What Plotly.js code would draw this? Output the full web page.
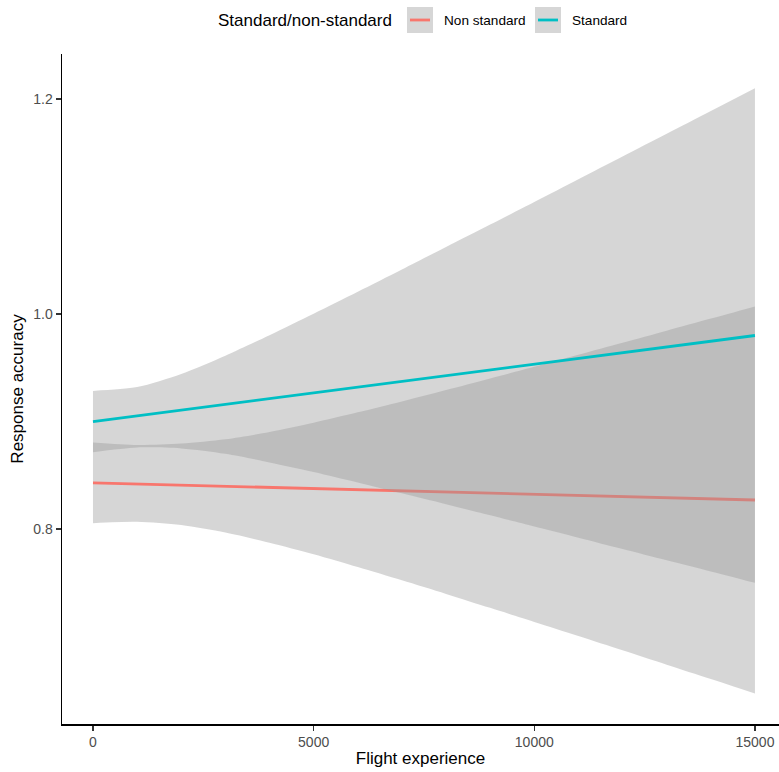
<!DOCTYPE html>
<html>
<head>
<meta charset="utf-8">
<script src="https://cdn.plot.ly/plotly-3.0.1.min.js"></script>
<style>
  html, body { margin: 0; padding: 0; background: #ffffff; }
  #chart { width: 779px; height: 772px; }
</style>
</head>
<body>
<div id="chart"></div>
<script>
// ---- Data ----
const flightExperience = [0, 1000, 2000, 3000, 4000, 5000, 6000, 7000, 8000, 9000, 10000, 11000, 12000, 13000, 14000, 15000];

// Standard group: fitted line and confidence band
const standardFit   = [0.9000, 0.9053, 0.9107, 0.9160, 0.9213, 0.9267, 0.9320, 0.9373, 0.9427, 0.9480, 0.9533, 0.9587, 0.9640, 0.9693, 0.9747, 0.9800];
const standardUpper = [0.9285, 0.9320, 0.9442, 0.9612, 0.9803, 1.0003, 1.0207, 1.0414, 1.0623, 1.0832, 1.1042, 1.1254, 1.1465, 1.1676, 1.1888, 1.2100];
const standardLower = [0.8715, 0.8758, 0.8750, 0.8700, 0.8620, 0.8531, 0.8433, 0.8332, 0.8231, 0.8128, 0.8024, 0.7920, 0.7815, 0.7710, 0.7606, 0.7500];

// Non standard group: fitted line and confidence band
const nonStandardFit   = [0.8430, 0.8419, 0.8409, 0.8398, 0.8387, 0.8377, 0.8366, 0.8355, 0.8345, 0.8334, 0.8323, 0.8313, 0.8302, 0.8291, 0.8281, 0.8270];
const nonStandardUpper = [0.8805, 0.8782, 0.8795, 0.8835, 0.8903, 0.8989, 0.9086, 0.9187, 0.9293, 0.9401, 0.9510, 0.9621, 0.9732, 0.9844, 0.9957, 1.0070];
const nonStandardLower = [0.8055, 0.8067, 0.8037, 0.7967, 0.7873, 0.7765, 0.7646, 0.7523, 0.7397, 0.7267, 0.7136, 0.7005, 0.6872, 0.6738, 0.6605, 0.6470];

const groupNames  = ["Non standard", "Standard"];
const legendTitle = "Standard/non-standard";
const xTicks = [0, 5000, 10000, 15000];
const yTicks = [0.8, 1.0, 1.2];
const xTitle = "Flight experience";
const yTitle = "Response accuracy";

// ---- Styling ----
const FONT = "'Liberation Sans', Arial, Helvetica, sans-serif";
const colNon = "#F8766D";
const colStd = "#00BFC4";
const ribbonFill = "rgba(153,153,153,0.4)";
const W = 779, H = 772;
const M = { l: 62, r: 0, t: 54, b: 48 };

function ribbon(lower, upper) {
  return [
    { x: flightExperience, y: lower, type: "scatter", mode: "lines",
      line: { width: 0, shape: "spline", smoothing: 0.8, color: "rgba(0,0,0,0)" },
      hoverinfo: "skip", showlegend: false },
    { x: flightExperience, y: upper, type: "scatter", mode: "lines",
      line: { width: 0, shape: "spline", smoothing: 0.8, color: "rgba(0,0,0,0)" },
      fill: "tonexty", fillcolor: ribbonFill,
      hoverinfo: "skip", showlegend: false }
  ];
}

const traces = [
  ...ribbon(nonStandardLower, nonStandardUpper),
  { x: flightExperience, y: nonStandardFit, type: "scatter", mode: "lines",
    name: groupNames[0], line: { color: colNon, width: 2.8 }, showlegend: false },
  ...ribbon(standardLower, standardUpper),
  { x: flightExperience, y: standardFit, type: "scatter", mode: "lines",
    name: groupNames[1], line: { color: colStd, width: 2.8 }, showlegend: false }
];

// pixel -> paper helpers for the hand-built legend
const pw = W - M.l - M.r, ph = H - M.t - M.b;
const px = v => (v - M.l) / pw;
const py = v => (H - M.b - v) / ph;

const legendY = 20;
const keys = [
  { x0: 407, label: groupNames[0], color: colNon, textX: 442 },
  { x0: 535, label: groupNames[1], color: colStd, textX: 570 }
];

const shapes = [];
const annotations = [
  { xref: "paper", yref: "paper", x: px(216), y: py(legendY), xanchor: "left", yanchor: "middle",
    text: legendTitle, showarrow: false, font: { family: FONT, size: 17, color: "#000000" } }
];
keys.forEach(k => {
  shapes.push({ type: "rect", xref: "paper", yref: "paper",
    x0: px(k.x0), x1: px(k.x0 + 26), y0: py(legendY + 13), y1: py(legendY - 13),
    fillcolor: "#d6d6d6", line: { width: 0 }, layer: "above" });
  shapes.push({ type: "line", xref: "paper", yref: "paper",
    x0: px(k.x0 + 3), x1: px(k.x0 + 23), y0: py(legendY), y1: py(legendY),
    line: { color: k.color, width: 2.8 }, layer: "above" });
  annotations.push({ xref: "paper", yref: "paper", x: px(k.textX), y: py(legendY),
    xanchor: "left", yanchor: "middle", text: k.label, showarrow: false,
    font: { family: FONT, size: 13.6, color: "#000000" } });
});

const layout = {
  width: W, height: H,
  margin: M,
  paper_bgcolor: "#ffffff",
  plot_bgcolor: "#ffffff",
  font: { family: FONT },
  showlegend: false,
  xaxis: {
    range: [-702, 15545],
    tickvals: xTicks, ticktext: xTicks.map(String),
    ticks: "outside", ticklen: 5, tickwidth: 1.2, tickcolor: "#333333",
    showline: true, linecolor: "#000000", linewidth: 1.5,
    showgrid: false, zeroline: false,
    tickfont: { family: FONT, size: 14, color: "#4D4D4D" },
    title: { text: xTitle, font: { family: FONT, size: 17, color: "#000000" }, standoff: 3 }
  },
  yaxis: {
    range: [0.6187, 1.2418],
    tickvals: yTicks, ticktext: yTicks.map(v => v.toFixed(1)),
    ticks: "outside", ticklen: 5, tickwidth: 1.2, tickcolor: "#333333",
    showline: true, linecolor: "#000000", linewidth: 1.5,
    showgrid: false, zeroline: false,
    tickfont: { family: FONT, size: 14, color: "#4D4D4D" },
    title: { text: yTitle, font: { family: FONT, size: 17, color: "#000000" }, standoff: 5 }
  },
  shapes: shapes,
  annotations: annotations
};

Plotly.newPlot("chart", traces, layout, { displayModeBar: false, staticPlot: true });
</script>
</body>
</html>
